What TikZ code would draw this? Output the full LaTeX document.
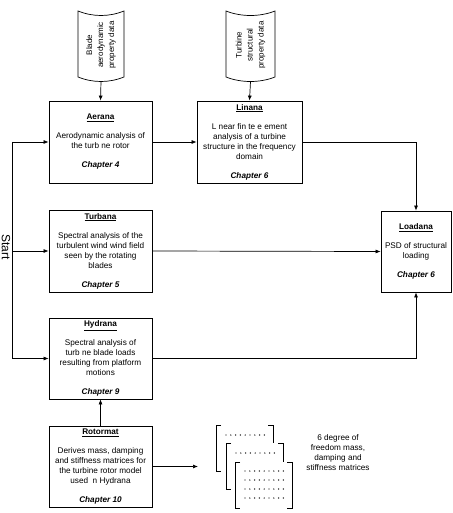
\documentclass[tikz,border=0pt]{standalone}
\usepackage{fontspec}
\setmainfont{Liberation Sans}
\usetikzlibrary{arrows.meta}
\newcommand{\ttl}[1]{\underline{\textbf{#1}}}
\newcommand{\chap}[1]{\textbf{\textit{#1}}}
\begin{document}
\begin{tikzpicture}[x=1pt,y=-1pt,
  box/.style={draw, line width=0.8pt, fill=white, align=center, inner sep=0pt,
    font=\fontsize{8.2}{10}\selectfont},
  tapetext/.style={rotate=90, align=center, inner sep=0pt, font=\fontsize{8}{11}\selectfont},
  plain/.style={align=center, inner sep=0pt, font=\fontsize{8.2}{10}\selectfont},
  arr/.style={-{Latex[length=5pt,width=4pt]}, line width=0.7pt},
  ln/.style={line width=0.7pt},
  brk/.style={line width=0.9pt}]
\useasboundingbox (0,0) rectangle (452,513);

% tapes (input data)
\draw[ln] (78,11) .. controls (93,17) and (109,17) .. (124,11) -- (124,77)
  .. controls (109,83) and (93,83) .. (78,77) -- cycle;
\node[tapetext] (blade) at (101,45) {Blade\\aerodynamic\\property data};
\coordinate (bladebot) at (101,81.5);

\draw[ln] (226,11) .. controls (241,17) and (260,17) .. (275,11) -- (275,77)
  .. controls (260,83) and (241,83) .. (226,77) -- cycle;
\node[tapetext] (turbine) at (250.5,45) {Turbine\\structural\\property data};
\coordinate (turbinebot) at (250.5,81.5);

% boxes
\node[box, minimum width=103pt, minimum height=82pt] (aerana) at (100.5,142)
  {\ttl{Aerana}\\[9pt]Aerodynamic analysis of\\the turb ne rotor\\[9pt]\chap{Chapter 4}};
\node[box, minimum width=105pt, minimum height=82pt] (linana) at (249.5,142)
  {\ttl{Linana}\\[9pt]L near fin te e ement\\analysis of a turbine\\structure in the frequency\\domain\\[9pt]\chap{Chapter 6}};
\node[box, minimum width=103pt, minimum height=82pt] (turbana) at (100.5,251)
  {\ttl{Turbana}\\[9pt]Spectral analysis of the\\turbulent wind wind field\\seen by the rotating\\blades\\[9pt]\chap{Chapter 5}};
\node[box, minimum width=103pt, minimum height=81pt] (hydrana) at (100.5,358.5)
  {\ttl{Hydrana}\\[9pt]Spectral analysis of\\turb ne blade loads\\resulting from platform\\motions\\[9pt]\chap{Chapter 9}};
\node[box, minimum width=103pt, minimum height=81pt] (rotormat) at (100.5,466.5)
  {\ttl{Rotormat}\\[9pt]Derives mass, damping\\and stiffness matrices for\\the turbine rotor model\\used \ n Hydrana\\[9pt]\chap{Chapter 10}};
\node[box, minimum width=70pt, minimum height=81pt] (loadana) at (416,251.5)
  {\ttl{Loadana}\\[9pt]PSD of structural\\loading\\[9pt]\chap{Chapter 6}};

% start
\node[rotate=-90, inner sep=0pt, font=\fontsize{12}{14}\selectfont] (start) at (6,247) {Start};
\coordinate (s1) at (12,142);
\coordinate (s2) at (12,251);
\coordinate (s3) at (12,358.5);
\draw[ln] (s1) -- (s3);
\draw[arr] (s1) -- (aerana.west);
\draw[arr] (s2) -- (turbana.west);
\draw[arr] (s3) -- (hydrana.west);

% connectors
\draw[arr] (bladebot) -- (aerana.north);
\draw[arr] (turbinebot) -- (linana.north);
\draw[arr] (aerana.east) -- (linana.west);
\draw[arr] (linana.east) -| (loadana.north);
\draw[arr] (turbana.east) -- (loadana.west);
\draw[arr] (hydrana.east) -| (loadana.south);
\draw[arr] (rotormat.north) -- (hydrana.south);
\coordinate (matin) at (198,466.5);
\draw[arr] (rotormat.east) -- (matin);

% matrices
\foreach \x/\y in {216/425, 226/443, 235/462} {
  \fill[white] (\x,\y) rectangle (\x+57,\y+46);
  \draw[brk] (\x+5,\y) -- (\x,\y) -- (\x,\y+46) -- (\x+5,\y+46);
  \draw[brk] (\x+52,\y) -- (\x+57,\y) -- (\x+57,\y+46) -- (\x+52,\y+46);
}
\foreach \k in {0,...,8} {
  \fill (226+\k*4.8,435) circle (0.7pt);
  \fill (236+\k*4.8,453) circle (0.7pt);
  \foreach \r in {471,480,489,498} {
    \fill (245+\k*4.8,\r) circle (0.7pt);
  }
}
\node[plain] (mattext) at (338,453) {6 degree of\\freedom mass,\\damping and\\stiffness matrices};
\end{tikzpicture}
\end{document}
